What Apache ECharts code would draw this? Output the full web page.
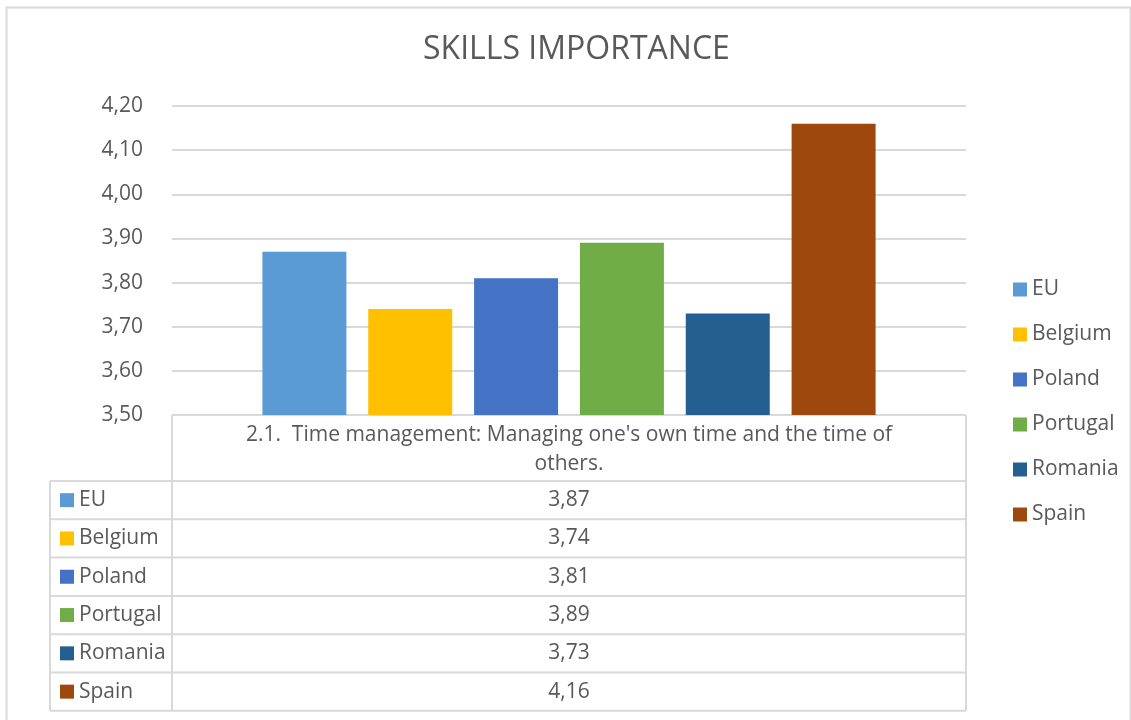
<!DOCTYPE html>
<html>
<head>
<meta charset="utf-8">
<script src="https://cdn.jsdelivr.net/npm/echarts@6/dist/echarts.min.js"></script>
<style>
  html, body { margin: 0; padding: 0; background: #fff; }
  #chart { width: 1131px; height: 720px; }
</style>
</head>
<body>
<div id="chart"></div>
<script>
// data
var countries = ['EU', 'Belgium', 'Poland', 'Portugal', 'Romania', 'Spain'];
var values = [3.87, 3.74, 3.81, 3.89, 3.73, 4.16];
var colors = ['#5b9bd5', '#ffc000', '#4472c4', '#70ad47', '#255e91', '#9e480e'];
var category = ["2.1.  Time management: Managing one's own time and the time of", 'others.'];
var yTicks = { min: 3.5, max: 4.2, step: 0.1 };

var font = 'Open Sans';
var grey = '#595959';
var lineCol = '#d9d9d9';

// layout of the data table under the plot
var gridLeft = 172, gridRight = 966, axisY = 415;
var headerBottom = 481, rowH = 38.3, tableLeft = 50;

function fmt(v) { return v.toFixed(2).replace('.', ','); }

var series = [];
for (var i = 0; i < countries.length; i++) {
    series.push({
        name: countries[i],
        type: 'bar',
        data: [values[i]],
        barWidth: 84,
        barGap: '26%',
        itemStyle: { color: colors[i] },
        emphasis: { disabled: true }
    });
}

// table graphics
var g = [];
// outer frame
g.push({ type: 'rect', shape: { x: 6.5, y: 7.5, width: 1124, height: 720 }, style: { fill: 'none', stroke: lineCol, lineWidth: 2 }, silent: true });
var tableBottom = headerBottom + rowH * countries.length;
// header box
g.push({ type: 'line', shape: { x1: gridLeft, y1: axisY, x2: gridRight, y2: axisY }, style: { stroke: lineCol, lineWidth: 2 } });
g.push({ type: 'line', shape: { x1: gridLeft, y1: axisY, x2: gridLeft, y2: tableBottom }, style: { stroke: lineCol, lineWidth: 2 } });
g.push({ type: 'line', shape: { x1: gridRight, y1: axisY, x2: gridRight, y2: tableBottom }, style: { stroke: lineCol, lineWidth: 2 } });
g.push({ type: 'line', shape: { x1: tableLeft, y1: headerBottom, x2: tableLeft, y2: tableBottom }, style: { stroke: lineCol, lineWidth: 2 } });
for (var k = 0; k < category.length; k++) {
    g.push({
        type: 'text', x: (gridLeft + gridRight) / 2, y: 435 + k * 29,
        style: { text: category[k], font: '21px "' + font + '"', fill: grey, align: 'center', verticalAlign: 'middle' }
    });
}
for (var r = 0; r <= countries.length; r++) {
    var y = headerBottom + r * rowH;
    g.push({ type: 'line', shape: { x1: tableLeft, y1: y, x2: gridRight, y2: y }, style: { stroke: lineCol, lineWidth: 2 } });
}
for (var j = 0; j < countries.length; j++) {
    var cy = headerBottom + (j + 0.5) * rowH;
    g.push({ type: 'rect', shape: { x: 60, y: cy - 7, width: 14, height: 14 }, style: { fill: colors[j] } });
    g.push({ type: 'text', x: 79, y: cy, style: { text: countries[j], font: '21px "' + font + '"', fill: grey, verticalAlign: 'middle' } });
    g.push({ type: 'text', x: (gridLeft + gridRight) / 2, y: cy, style: { text: fmt(values[j]), font: '21px "' + font + '"', fill: grey, align: 'center', verticalAlign: 'middle' } });
}

var chart = echarts.init(document.getElementById('chart'));
chart.setOption({
    animation: false,
    title: {
        text: 'SKILLS IMPORTANCE',
        left: 418, top: 29,
        textStyle: { fontFamily: font, fontSize: 32, fontWeight: 'normal', color: grey }
    },
    legend: {
        orient: 'vertical',
        left: 1008, top: 274,
        itemWidth: 14, itemHeight: 14, itemGap: 24,
        icon: 'rect',
        textStyle: { fontFamily: font, fontSize: 21, color: grey, lineHeight: 21 },
        data: countries
    },
    grid: { left: gridLeft, right: 1131 - gridRight, top: 106, height: axisY - 106 },
    xAxis: {
        type: 'category',
        data: [category.join(' ')],
        axisLine: { show: false },
        axisTick: { show: false },
        axisLabel: { show: false }
    },
    yAxis: {
        type: 'value',
        min: yTicks.min, max: yTicks.max, interval: yTicks.step,
        axisLabel: { formatter: function (v) { return fmt(v); }, fontFamily: font, fontSize: 21, color: grey, margin: 29 },
        splitLine: { lineStyle: { color: lineCol, width: 2 } },
        axisLine: { show: false },
        axisTick: { show: false }
    },
    series: series,
    graphic: g
});
</script>
</body>
</html>
